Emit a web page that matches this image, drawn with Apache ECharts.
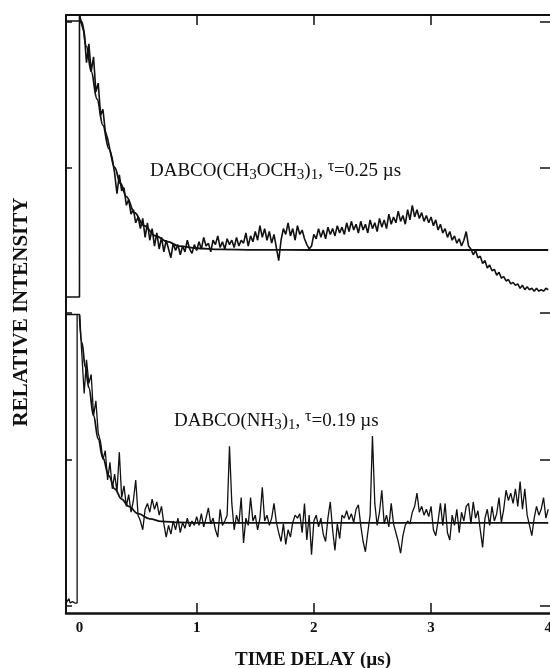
<!DOCTYPE html>
<html>
<head>
<meta charset="utf-8">
<script src="https://cdn.jsdelivr.net/npm/echarts@6/dist/echarts.min.js"></script>
<style>
html,body{margin:0;padding:0;background:#fff;overflow:hidden;width:550px;height:668px;}
#chart{width:550px;height:668px;}
</style>
</head>
<body>
<div id="chart"></div>
<script>
const dt = 0.02;

// Top trace: DABCO(CH3OCH3)1, relative intensity, t = 0 .. 4.00 µs
const topValues = [
  2.04,1.98,1.93,1.72,1.85,1.66,1.76,1.52,1.58,1.36,
  1.40,1.25,1.20,1.12,1.06,0.96,0.82,0.95,0.84,0.86,
  0.74,0.78,0.68,0.71,0.62,0.66,0.58,0.65,0.52,0.62,
  0.50,0.58,0.46,0.55,0.44,0.52,0.42,0.50,0.44,0.38,
  0.48,0.43,0.47,0.40,0.46,0.42,0.50,0.44,0.41,0.47,
  0.43,0.49,0.44,0.52,0.46,0.48,0.42,0.50,0.47,0.53,
  0.45,0.49,0.44,0.51,0.47,0.50,0.45,0.52,0.46,0.50,
  0.48,0.55,0.46,0.53,0.49,0.56,0.50,0.60,0.52,0.58,
  0.50,0.56,0.48,0.54,0.45,0.36,0.50,0.58,0.54,0.62,
  0.53,0.58,0.50,0.60,0.54,0.57,0.51,0.47,0.44,0.46,
  0.54,0.51,0.58,0.52,0.57,0.51,0.59,0.54,0.58,0.53,
  0.60,0.55,0.59,0.54,0.62,0.56,0.63,0.57,0.61,0.55,
  0.63,0.57,0.61,0.55,0.64,0.58,0.62,0.56,0.65,0.59,
  0.64,0.58,0.68,0.61,0.66,0.62,0.70,0.63,0.67,0.61,
  0.71,0.64,0.74,0.66,0.71,0.65,0.69,0.63,0.67,0.62,
  0.66,0.60,0.64,0.57,0.61,0.55,0.58,0.52,0.56,0.50,
  0.53,0.48,0.51,0.46,0.50,0.56,0.46,0.44,0.40,0.43,
  0.38,0.39,0.34,0.36,0.31,0.33,0.29,0.30,0.26,0.28,
  0.24,0.25,0.22,0.23,0.20,0.21,0.19,0.20,0.17,0.19,
  0.16,0.18,0.16,0.17,0.15,0.17,0.15,0.16,0.15,0.17,
  0.16
];
// Top trace before the pulse (t < 0)
const topPreT = [-0.115, 0.0];
const topPreV = [0.11, 0.11];

// Top fitted decay (tau = 0.25 µs)
const topFitT = [0.0,0.02,0.06,0.10,0.15,0.20,0.25,0.30,0.35,0.40,0.47,0.55,0.65,0.75,0.85,1.0,1.2,1.5,2.0,3.0,4.0];
const topFitV = [2.05,2.00,1.83,1.66,1.47,1.29,1.13,1.00,0.89,0.80,0.69,0.60,0.53,0.49,0.46,0.445,0.437,0.434,0.433,0.433,0.433];

// Bottom trace: DABCO(NH3)1, relative intensity, t = 0 .. 4.00 µs
const bottomValues = [
  1.99,1.72,1.45,1.68,1.52,1.58,1.30,1.40,1.18,1.12,
  1.00,1.06,0.86,0.98,0.80,0.90,0.78,1.05,0.74,0.82,
  0.68,0.76,0.64,0.72,0.86,0.62,0.58,0.52,0.66,0.70,
  0.64,0.73,0.66,0.71,0.62,0.68,0.56,0.47,0.55,0.49,
  0.58,0.52,0.60,0.50,0.57,0.53,0.60,0.54,0.58,0.55,
  0.61,0.55,0.63,0.54,0.60,0.67,0.56,0.60,0.52,0.47,
  0.66,0.55,0.58,0.62,1.09,0.70,0.52,0.62,0.56,0.74,
  0.43,0.60,0.55,0.74,0.58,0.62,0.52,0.60,0.81,0.58,
  0.62,0.55,0.60,0.70,0.57,0.50,0.44,0.56,0.42,0.52,
  0.47,0.57,0.62,0.60,0.63,0.50,0.70,0.45,0.62,0.35,
  0.58,0.62,0.54,0.60,0.49,0.44,0.60,0.71,0.52,0.38,
  0.56,0.46,0.62,0.60,0.65,0.59,0.63,0.57,0.66,0.69,
  0.55,0.44,0.37,0.50,0.62,1.16,0.70,0.55,0.64,0.79,
  0.56,0.62,0.54,0.70,0.56,0.50,0.44,0.36,0.48,0.55,
  0.58,0.56,0.64,0.68,0.77,0.64,0.68,0.62,0.66,0.61,
  0.68,0.52,0.48,0.58,0.70,0.55,0.70,0.50,0.45,0.62,
  0.55,0.66,0.50,0.64,0.58,0.68,0.70,0.56,0.71,0.60,
  0.65,0.52,0.40,0.60,0.66,0.55,0.68,0.58,0.63,0.74,
  0.57,0.66,0.79,0.72,0.77,0.70,0.80,0.68,0.85,0.66,
  0.80,0.62,0.55,0.48,0.60,0.68,0.62,0.66,0.74,0.60,
  0.66
];
// Bottom trace before the pulse (t < 0)
const bottomPreT = [-0.115,-0.10,-0.09,-0.08,-0.06,-0.04,-0.02,-0.02];
const bottomPreV = [0.02,0.02,0.05,0.02,0.03,0.02,0.02,1.99];

// Bottom fitted decay (tau = 0.19 µs)
const bottomFitT = [0.0,0.02,0.05,0.08,0.12,0.16,0.20,0.25,0.30,0.36,0.42,0.50,0.60,0.70,0.85,1.0,2.0,4.0];
const bottomFitV = [1.99,1.80,1.63,1.49,1.30,1.14,1.01,0.89,0.80,0.73,0.68,0.63,0.595,0.578,0.57,0.567,0.567,0.567];

// Excitation pulse markers (top edge of the t<0 box)
const topPulseT = [-0.115, 0.0];
const topPulseV = [2.007, 2.007];
const bottomPulseT = [-0.115, -0.02];
const bottomPulseV = [1.99, 1.99];

// Tick values
const xTickValues = [1, 2, 3];
const xLabelValues = [0, 1, 2, 3, 4];
const yTickValues = [0, 1, 2];

const zip = (ts, vs) => ts.map((t, i) => [t, vs[i]]);
const sampled = vs => vs.map((v, i) => [Math.round(i * dt * 100) / 100, v]);

const topTrace = zip(topPreT, topPreV).concat(sampled(topValues));
const bottomTrace = zip(bottomPreT, bottomPreV).concat(sampled(bottomValues));

const INK = '#111';
const serif = '"Liberation Serif", "Times New Roman", serif';

function xAxisCfg(grid, pos, showLabels) {
  return {
    type: 'value', gridIndex: grid, position: pos,
    min: -0.115, max: 4.015,
    axisLine: { show: true, onZero: false, lineStyle: { color: INK, width: pos === 'bottom' ? 2.5 : 2 } },
    axisTick: { show: true, inside: true, length: 10, customValues: xTickValues, lineStyle: { color: INK, width: 1.5 } },
    axisLabel: showLabels ? {
      show: true, customValues: xLabelValues, margin: 8,
      fontFamily: serif, fontWeight: 'bold', fontSize: 15, color: INK
    } : { show: false },
    splitLine: { show: false }
  };
}
function yAxisCfg(grid, pos, min, max) {
  return {
    type: 'value', gridIndex: grid, position: pos, min: min, max: max,
    axisLine: { show: pos === 'left', onZero: false, lineStyle: { color: INK, width: 2 } },
    axisTick: { show: true, inside: true, length: pos === 'left' ? 6 : 10, customValues: yTickValues, lineStyle: { color: INK, width: 1.5 } },
    axisLabel: { show: false },
    splitLine: { show: false }
  };
}
function line(data, xi, yi, width, smooth) {
  return {
    type: 'line', data: data, xAxisIndex: xi, yAxisIndex: yi,
    showSymbol: false, symbol: 'none', smooth: smooth ? 0.4 : false,
    smoothMonotone: smooth ? 'x' : undefined,
    lineStyle: { color: INK, width: width }, silent: true, z: smooth ? 2 : 3
  };
}

const richStyles = {
  n: { fontFamily: serif, fontSize: 19, lineHeight: 24, color: INK },
  s: { fontFamily: serif, fontSize: 15, lineHeight: 15, verticalAlign: 'bottom', color: INK },
  t: { fontFamily: serif, fontSize: 16, lineHeight: 19, verticalAlign: 'top', color: INK }
};

const chart = echarts.init(document.getElementById('chart'), null, { renderer: 'canvas', width: 550, height: 668 });
chart.setOption({
  animation: false,
  backgroundColor: '#fff',
  grid: [
    { left: 66, right: 0, top: 15, height: 298, outerBoundsMode: 'none', containLabel: false },
    { left: 66, right: 0, top: 313, height: 300, outerBoundsMode: 'none', containLabel: false }
  ],
  xAxis: [ xAxisCfg(0, 'top', false), xAxisCfg(1, 'bottom', true) ],
  yAxis: [
    yAxisCfg(0, 'left', 0, 2.048), yAxisCfg(0, 'right', 0, 2.048),
    yAxisCfg(1, 'left', -0.048, 2), yAxisCfg(1, 'right', -0.048, 2)
  ],
  series: [
    line(zip(topFitT, topFitV), 0, 0, 1.8, true),
    line(topTrace, 0, 0, 1.6, false),
    line(zip(topPulseT, topPulseV), 0, 0, 1.5, false),
    line(zip(bottomFitT, bottomFitV), 1, 2, 1.8, true),
    line(bottomTrace, 1, 2, 1.3, false),
    line(zip(bottomPulseT, bottomPulseV), 1, 2, 1.5, false)
  ],
  graphic: [
    {
      type: 'text', x: 22, y: 312, rotation: Math.PI / 2,
      style: { text: 'RELATIVE INTENSITY', font: 'bold 21px ' + serif, align: 'center', verticalAlign: 'middle', fill: INK }
    },
    {
      type: 'text', x: 313, y: 660,
      style: { text: 'TIME DELAY (µs)', font: 'bold 19px ' + serif, align: 'center', verticalAlign: 'middle', fill: INK }
    },
    {
      type: 'text', x: 150, y: 171,
      style: {
        text: '{n|DABCO(CH}{s|3}{n|OCH}{s|3}{n|)}{s|1}{n|, }{t|τ}{n|=0.25 µs}',
        verticalAlign: 'middle', fill: INK, rich: richStyles
      }
    },
    {
      type: 'text', x: 174, y: 421,
      style: {
        text: '{n|DABCO(NH}{s|3}{n|)}{s|1}{n|, }{t|τ}{n|=0.19 µs}',
        verticalAlign: 'middle', fill: INK, rich: richStyles
      }
    }
  ]
});
</script>
</body>
</html>
